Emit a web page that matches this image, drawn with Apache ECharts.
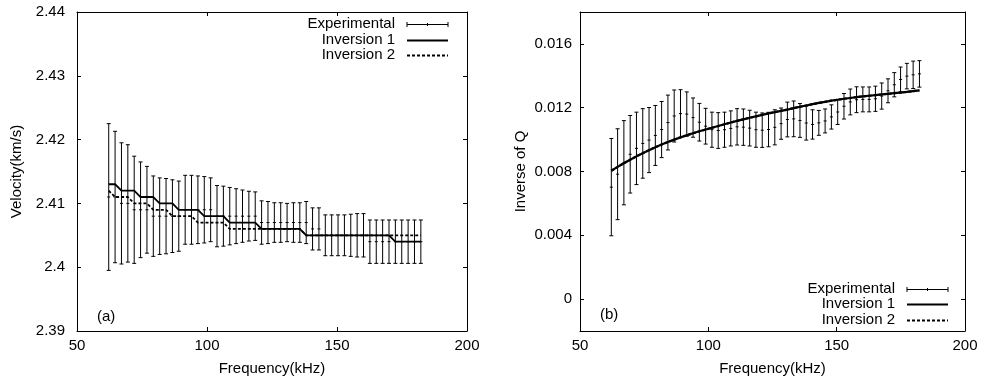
<!DOCTYPE html>
<html>
<head>
<meta charset="utf-8">
<script src="https://cdn.jsdelivr.net/npm/echarts@6/dist/echarts.min.js"></script>
<style>
  html, body { margin: 0; padding: 0; background: #fff; }
  #chart { width: 981px; height: 381px; }
</style>
</head>
<body>
<div id="chart"></div>
<script>
// frequencies of the measured points (kHz)
const freq = [62.2, 64.65, 67.1, 69.55, 72.0, 74.45, 76.9, 79.35, 81.8, 84.25,
  86.7, 89.15, 91.6, 94.05, 96.5, 98.95, 101.4, 103.85, 106.3, 108.75,
  111.2, 113.65, 116.1, 118.55, 121.0, 123.45, 125.9, 128.35, 130.8, 133.25,
  135.7, 138.15, 140.6, 143.05, 145.5, 147.95, 150.4, 152.85, 155.3, 157.75,
  160.2, 162.65, 165.1, 167.55, 170.0, 172.45, 174.9, 177.35, 179.8, 182.25];

// (a) velocity, km/s
const velExp = [2.411, 2.411, 2.410, 2.410, 2.409, 2.409, 2.409, 2.408, 2.408, 2.408,
  2.408, 2.408, 2.409, 2.409, 2.409, 2.409, 2.409, 2.408, 2.408, 2.408,
  2.408, 2.408, 2.408, 2.408, 2.407, 2.407, 2.407, 2.407, 2.407, 2.407,
  2.407, 2.407, 2.406, 2.406, 2.405, 2.405, 2.405, 2.405, 2.405, 2.405,
  2.405, 2.404, 2.404, 2.404, 2.404, 2.404, 2.404, 2.404, 2.404, 2.404];
const velErr = [0.0115, 0.0103, 0.0095, 0.0092, 0.0084, 0.0075, 0.0068, 0.0063, 0.0060, 0.0059,
  0.0057, 0.0055, 0.0054, 0.0054, 0.0053, 0.0052, 0.0050, 0.0048, 0.0047, 0.0045,
  0.0043, 0.0041, 0.0039, 0.0038, 0.0034, 0.0033, 0.0031, 0.0031, 0.0030, 0.0031,
  0.0031, 0.0033, 0.0033, 0.0033, 0.0032, 0.0032, 0.0032, 0.0032, 0.0033, 0.0034,
  0.0034, 0.0034, 0.0034, 0.0034, 0.0034, 0.0034, 0.0034, 0.0034, 0.0034, 0.0034];
const velInv1 = [2.413, 2.413, 2.412, 2.412, 2.412, 2.411, 2.411, 2.411, 2.410, 2.410,
  2.410, 2.409, 2.409, 2.409, 2.409, 2.408, 2.408, 2.408, 2.408, 2.407,
  2.407, 2.407, 2.407, 2.407, 2.406, 2.406, 2.406, 2.406, 2.406, 2.406,
  2.406, 2.405, 2.405, 2.405, 2.405, 2.405, 2.405, 2.405, 2.405, 2.405,
  2.405, 2.405, 2.405, 2.405, 2.405, 2.404, 2.404, 2.404, 2.404, 2.404];
const velInv2 = [2.412, 2.411, 2.411, 2.411, 2.410, 2.410, 2.410, 2.409, 2.409, 2.409,
  2.408, 2.408, 2.408, 2.408, 2.407, 2.407, 2.407, 2.407, 2.407, 2.406,
  2.406, 2.406, 2.406, 2.406, 2.406, 2.406, 2.406, 2.406, 2.406, 2.406,
  2.406, 2.405, 2.405, 2.405, 2.405, 2.405, 2.405, 2.405, 2.405, 2.405,
  2.405, 2.405, 2.405, 2.405, 2.405, 2.405, 2.405, 2.405, 2.405, 2.405];

// (b) inverse of Q
const qExp = [0.00702, 0.00783, 0.00855, 0.00908, 0.00945, 0.00976, 0.00997, 0.01026, 0.01063, 0.01107,
  0.01148, 0.01163, 0.01160, 0.01138, 0.01109, 0.01084, 0.01062, 0.01057, 0.01062, 0.01070,
  0.01080, 0.01078, 0.01072, 0.01062, 0.01059, 0.01063, 0.01077, 0.01100, 0.01126, 0.01130,
  0.01120, 0.01104, 0.01095, 0.01105, 0.01117, 0.01142, 0.01173, 0.01209, 0.01236, 0.01250,
  0.01252, 0.01252, 0.01256, 0.01273, 0.01306, 0.01344, 0.01377, 0.01398, 0.01406, 0.01412];
const qErr = [0.00305, 0.00285, 0.00264, 0.00243, 0.00227, 0.00218, 0.00204, 0.00188, 0.00176, 0.00172,
  0.00163, 0.00150, 0.00139, 0.00123, 0.00118, 0.00112, 0.00110, 0.00112, 0.00110, 0.00110,
  0.00114, 0.00114, 0.00112, 0.00110, 0.00108, 0.00108, 0.00110, 0.00098, 0.00109, 0.00112,
  0.00106, 0.00107, 0.00092, 0.00078, 0.00075, 0.00076, 0.00078, 0.00080, 0.00081, 0.00081,
  0.00078, 0.00078, 0.00079, 0.00082, 0.00075, 0.00076, 0.00078, 0.00080, 0.00086, 0.00083];
const qInv1 = [0.00805, 0.00829, 0.00852, 0.00874, 0.00895, 0.00915, 0.00934, 0.00952, 0.00969, 0.00985,
  0.01000, 0.01014, 0.01027, 0.01040, 0.01052, 0.01063, 0.01074, 0.01085, 0.01096, 0.01107,
  0.01117, 0.01127, 0.01137, 0.01146, 0.01155, 0.01164, 0.01172, 0.01180, 0.01188, 0.01197,
  0.01206, 0.01214, 0.01222, 0.01230, 0.01237, 0.01244, 0.01250, 0.01256, 0.01261, 0.01266,
  0.01271, 0.01275, 0.01279, 0.01283, 0.01287, 0.01291, 0.01295, 0.01299, 0.01304, 0.01309];
const qInv2 = [0.00805, 0.00829, 0.00852, 0.00874, 0.00895, 0.00915, 0.00934, 0.00952, 0.00969, 0.00985,
  0.01000, 0.01014, 0.01027, 0.01040, 0.01052, 0.01063, 0.01074, 0.01085, 0.01096, 0.01107,
  0.01117, 0.01127, 0.01137, 0.01146, 0.01155, 0.01164, 0.01172, 0.01180, 0.01188, 0.01197,
  0.01206, 0.01214, 0.01222, 0.01230, 0.01237, 0.01244, 0.01250, 0.01256, 0.01261, 0.01266,
  0.01271, 0.01275, 0.01279, 0.01283, 0.01287, 0.01291, 0.01295, 0.01299, 0.01304, 0.01309];

// tick labels
const qTicks = [0, 0.004, 0.008, 0.012, 0.016];
const legendNames = ["Experimental", "Inversion 1", "Inversion 2"];

const FONT = "Liberation Sans";
const FS = 15;

const chart = echarts.init(document.getElementById("chart"), null, { renderer: "canvas" });

// gnuplot-like axis: black border, ticks pointing inward
function xAxis(grid, position, withLabels, name) {
  return {
    type: "value", gridIndex: grid, position: position,
    min: 50, max: 200, interval: 50,
    name: name || "", nameLocation: "middle", nameGap: 30,
    nameTextStyle: { color: "#000", fontSize: FS, fontFamily: FONT },
    axisLine: { show: true, onZero: false, lineStyle: { color: "#000", width: 1 } },
    axisTick: { show: true, inside: true, length: 4, lineStyle: { color: "#000" } },
    axisLabel: { show: withLabels, margin: 7, color: "#000", fontSize: FS, fontFamily: FONT },
    splitLine: { show: false }
  };
}

function errorBars(params, api) {
  const x = api.value(0);
  const lo = api.coord([x, api.value(1)]);
  const hi = api.coord([x, api.value(2)]);
  const c = api.coord([x, api.value(3)]);
  const style = { stroke: "#000", lineWidth: 1 };
  return {
    type: "group",
    children: [
      { type: "line", shape: { x1: lo[0], y1: lo[1], x2: hi[0], y2: hi[1] }, style },
      { type: "line", shape: { x1: lo[0] - 2, y1: lo[1], x2: lo[0] + 2, y2: lo[1] }, style },
      { type: "line", shape: { x1: hi[0] - 2, y1: hi[1], x2: hi[0] + 2, y2: hi[1] }, style },
      { type: "line", shape: { x1: c[0] - 1.5, y1: c[1], x2: c[0] + 1.5, y2: c[1] }, style }
    ]
  };
}

function legendBlock(rightX, y0, dy) {
  const els = [];
  const sx1 = rightX + 12, sx2 = rightX + 53;
  legendNames.forEach((n, i) => {
    els.push({
      type: "text", x: rightX, y: y0 + i * dy,
      style: { text: n, fill: "#000", fontSize: FS, fontFamily: FONT,
        align: "right", verticalAlign: "middle", textAlign: "right", textVerticalAlign: "middle" }
    });
  });
  const ly = (i) => Math.round(y0 + i * dy) + 0.5;
  const st = { stroke: "#000", lineWidth: 1 };
  els.push({ type: "line", shape: { x1: sx1, y1: ly(0), x2: sx2, y2: ly(0) }, style: st });
  [sx1, (sx1 + sx2) / 2, sx2].forEach((x, k) => {
    const h = k === 1 ? 1.5 : 2.5;
    els.push({ type: "line", shape: { x1: x, y1: ly(0) - h, x2: x, y2: ly(0) + h }, style: st });
  });
  els.push({ type: "line", shape: { x1: sx1, y1: ly(1), x2: sx2, y2: ly(1) }, style: { stroke: "#000", lineWidth: 1.8 } });
  els.push({ type: "line", shape: { x1: sx1, y1: ly(2), x2: sx2, y2: ly(2) }, style: { stroke: "#000", lineWidth: 1.8, lineDash: [3, 2] } });
  return els;
}

const option = {
  backgroundColor: "#fff",
  animation: false,
  textStyle: { fontFamily: FONT },
  grid: [
    { left: 77, top: 12, width: 390, height: 320 },
    { left: 580, top: 12, width: 385, height: 320 }
  ],
  xAxis: [
    xAxis(0, "bottom", true, "Frequency(kHz)"),
    xAxis(0, "top", false),
    xAxis(1, "bottom", true, "Frequency(kHz)"),
    xAxis(1, "top", false)
  ],
  yAxis: [
    {
      type: "value", gridIndex: 0, position: "left",
      min: 2.39, max: 2.44, interval: 0.01,
      name: "Velocity(km/s)", nameLocation: "middle", nameGap: 53,
      nameTextStyle: { color: "#000", fontSize: FS, fontFamily: FONT },
      axisLine: { show: true, onZero: false, lineStyle: { color: "#000", width: 1 } },
      axisTick: { show: true, inside: true, length: 4, lineStyle: { color: "#000" } },
      axisLabel: { margin: 12, color: "#000", fontSize: FS, fontFamily: FONT },
      splitLine: { show: false }
    },
    {
      type: "value", gridIndex: 0, position: "right",
      min: 2.39, max: 2.44, interval: 0.01,
      axisLine: { show: true, onZero: false, lineStyle: { color: "#000", width: 1 } },
      axisTick: { show: true, inside: true, length: 4, lineStyle: { color: "#000" } },
      axisLabel: { show: false },
      splitLine: { show: false }
    },
    {
      type: "value", gridIndex: 1, position: "left",
      min: -0.002, max: 0.018, interval: 0.002,
      name: "Inverse of Q", nameLocation: "middle", nameGap: 52,
      nameTextStyle: { color: "#000", fontSize: FS, fontFamily: FONT },
      axisLine: { show: true, onZero: false, lineStyle: { color: "#000", width: 1 } },
      axisTick: { show: true, inside: true, length: 4, customValues: qTicks, lineStyle: { color: "#000" } },
      axisLabel: { margin: 8, color: "#000", fontSize: FS, fontFamily: FONT, customValues: qTicks },
      splitLine: { show: false }
    },
    {
      type: "value", gridIndex: 1, position: "right",
      min: -0.002, max: 0.018, interval: 0.002,
      axisLine: { show: true, onZero: false, lineStyle: { color: "#000", width: 1 } },
      axisTick: { show: true, inside: true, length: 4, customValues: qTicks, lineStyle: { color: "#000" } },
      axisLabel: { show: false },
      splitLine: { show: false }
    }
  ],
  series: [
    {
      name: "Experimental", type: "custom", xAxisIndex: 0, yAxisIndex: 0,
      renderItem: errorBars, clip: true, z: 2,
      data: freq.map((f, i) => [f, velExp[i] - velErr[i], velExp[i] + velErr[i], velExp[i]])
    },
    {
      name: "Inversion 2", type: "line", xAxisIndex: 0, yAxisIndex: 0,
      data: freq.map((f, i) => [f, velInv2[i]]),
      symbol: "none", z: 3,
      lineStyle: { color: "#000", width: 1.8, type: [3, 2] }
    },
    {
      name: "Inversion 1", type: "line", xAxisIndex: 0, yAxisIndex: 0,
      data: freq.map((f, i) => [f, velInv1[i]]),
      symbol: "none", z: 4,
      lineStyle: { color: "#000", width: 1.8 }
    },
    {
      name: "Experimental", type: "custom", xAxisIndex: 2, yAxisIndex: 2,
      renderItem: errorBars, clip: true, z: 2,
      data: freq.map((f, i) => [f, qExp[i] - qErr[i], qExp[i] + qErr[i], qExp[i]])
    },
    {
      name: "Inversion 2", type: "line", xAxisIndex: 2, yAxisIndex: 2,
      data: freq.map((f, i) => [f, qInv2[i]]),
      symbol: "none", z: 3,
      lineStyle: { color: "#000", width: 2.2, type: [3, 2] }
    },
    {
      name: "Inversion 1", type: "line", xAxisIndex: 2, yAxisIndex: 2,
      data: freq.map((f, i) => [f, qInv1[i]]),
      symbol: "none", z: 4,
      lineStyle: { color: "#000", width: 2.2 }
    }
  ],
  graphic: [
    ...legendBlock(395, 24, 15.5),
    ...legendBlock(895, 288.5, 15.5),
    { type: "text", x: 97, y: 316.5,
      style: { text: "(a)", fill: "#000", fontSize: FS, fontFamily: FONT, verticalAlign: "middle", textVerticalAlign: "middle" } },
    { type: "text", x: 600, y: 315,
      style: { text: "(b)", fill: "#000", fontSize: FS, fontFamily: FONT, verticalAlign: "middle", textVerticalAlign: "middle" } }
  ]
};

chart.setOption(option);
</script>
</body>
</html>
